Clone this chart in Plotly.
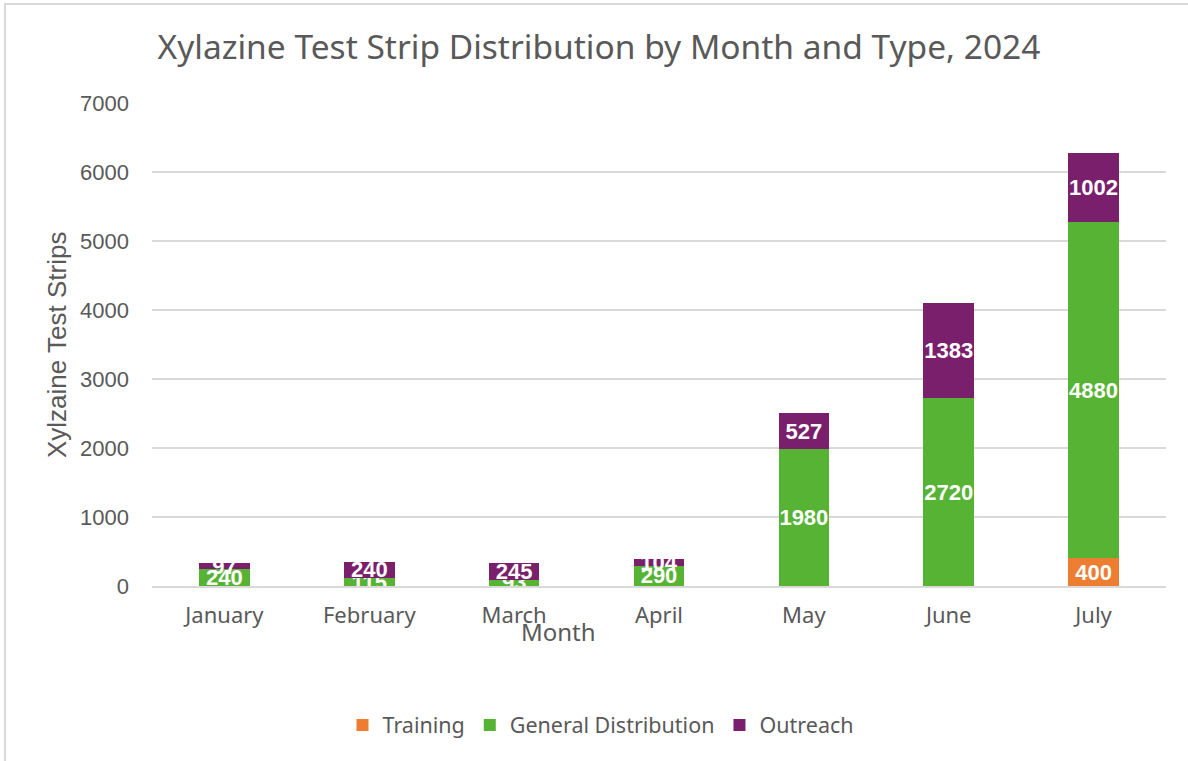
import plotly.graph_objects as go

months = ["January", "February", "March", "April", "May", "June", "July"]
training = [None, None, None, None, None, None, 400]
general = [240, 115, 93, 290, 1980, 2720, 4880]
outreach = [97, 240, 245, 104, 527, 1383, 1002]
y_ticks = [0, 1000, 2000, 3000, 4000, 5000, 6000, 7000]

colors = {"Training": "#ED7D31", "General Distribution": "#56B334", "Outreach": "#7A1F6C"}

fig = go.Figure()
for name, vals in [("Training", training), ("General Distribution", general), ("Outreach", outreach)]:
    fig.add_trace(go.Bar(
        x=months, y=vals, name=name,
        marker=dict(color=colors[name], line=dict(width=0)),
        text=[("" if v is None else str(v)) for v in vals],
        textposition="inside", insidetextanchor="middle", textangle=0,
        textfont=dict(family="Liberation Sans, Arial", size=22, color="white", weight="bold"),
        cliponaxis=False,
    ))

W, H = 1188, 761
fig.update_layout(
    barmode="stack", bargap=0.65,
    width=W, height=H,
    margin=dict(l=152, r=22, t=103, b=175),
    paper_bgcolor="white", plot_bgcolor="white",
    uniformtext=dict(mode="show", minsize=22),
    title=dict(text="Xylazine Test Strip Distribution by Month and Type, 2024",
               x=(599 - 152) / 1014, xanchor="center", xref="paper",
               y=1 - 47 / H, yref="container", yanchor="middle",
               font=dict(family="Noto Sans", size=33.5, color="#595959")),
    xaxis=dict(showgrid=False, ticks="", showline=True, linecolor="#D9D9D9", linewidth=2,
               tickfont=dict(family="Noto Sans", size=22, color="#595959"), ticklabelstandoff=9),
    yaxis=dict(range=[0, 7000], tickvals=y_ticks, showgrid=True, gridcolor="#D9D9D9", gridwidth=1.5,
               zeroline=False, ticks="",
               tickfont=dict(family="Liberation Sans, Arial", size=22, color="#595959"), ticklabelstandoff=22),
    legend=dict(orientation="h", x=(601 - 152) / 1014, xanchor="center", y=-0.288, yanchor="middle",
                traceorder="normal",
                font=dict(family="Noto Sans", size=21.5, color="#595959"), itemwidth=30),
    showlegend=True,
)

fig.add_annotation(text="Month", xref="paper", yref="paper", x=(558 - 152) / 1014, y=(586 - 631) / 483,
                   showarrow=False, xanchor="center", yanchor="middle",
                   font=dict(family="Noto Sans", size=24, color="#595959"))
fig.add_annotation(text="Xylzaine Test Strips", xref="paper", yref="paper", x=(57 - 152) / 1014,
                   y=(586 - 345) / 483, textangle=-90,
                   showarrow=False, xanchor="center", yanchor="middle",
                   font=dict(family="Liberation Sans, Arial", size=26, color="#595959"))
fig.add_shape(type="rect", xref="paper", yref="paper",
              x0=(5 - 152) / 1014, x1=(1200 - 152) / 1014, y0=(586 - 780) / 483, y1=(586 - 4) / 483,
              line=dict(color="#D9D9D9", width=2), fillcolor="rgba(0,0,0,0)", layer="below")

fig.write_html("out.html", config={"displayModeBar": False},
               post_script="document.body.style.margin='0';")
